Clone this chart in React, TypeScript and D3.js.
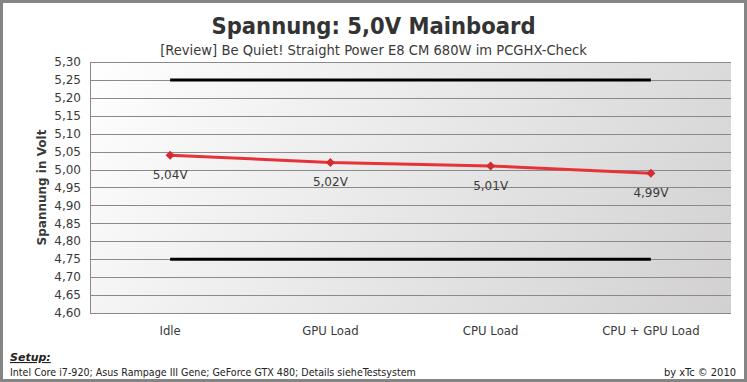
import { useEffect, useRef } from "react";
import * as d3 from "d3";

const categories = ["Idle", "GPU Load", "CPU Load", "CPU + GPU Load"];
const voltages = [5.04, 5.02, 5.01, 4.99];
const upperLimit = 5.25;
const lowerLimit = 4.75;
const yTicks = [4.6, 4.65, 4.7, 4.75, 4.8, 4.85, 4.9, 4.95, 5.0, 5.05, 5.1, 5.15, 5.2, 5.25, 5.3];

const fmt = (v: number) => v.toFixed(2).replace(".", ",");

export default function App() {
  const ref = useRef<SVGSVGElement>(null);

  useEffect(() => {
    const W = 747;
    const H = 382;
    const plot = { left: 90, right: 731, top: 62, bottom: 313 };
    const svg = d3.select(ref.current);
    svg.selectAll("*").remove();

    const defs = svg.append("defs");
    const grad = defs
      .append("linearGradient")
      .attr("id", "bg")
      .attr("gradientUnits", "userSpaceOnUse")
      .attr("x1", plot.left)
      .attr("y1", plot.top)
      .attr("x2", plot.right)
      .attr("y2", plot.bottom + 200);
    grad.append("stop").attr("offset", "0%").attr("stop-color", "#ffffff");
    grad.append("stop").attr("offset", "100%").attr("stop-color", "#cac8c8");

    // outer frame
    svg.append("rect").attr("width", W).attr("height", H).attr("fill", "#ffffff");
    svg
      .append("rect")
      .attr("x", 1.5)
      .attr("y", 1.5)
      .attr("width", W - 3)
      .attr("height", H - 3)
      .attr("fill", "none")
      .attr("stroke", "#858585")
      .attr("stroke-width", 3);

    const x = d3
      .scaleBand()
      .domain(categories)
      .range([plot.left, plot.right]);
    const y = d3.scaleLinear().domain([4.6, 5.3]).range([plot.bottom, plot.top]);
    const cx = (c: string) => (x(c) as number) + x.bandwidth() / 2;

    svg
      .append("rect")
      .attr("x", plot.left)
      .attr("y", plot.top)
      .attr("width", plot.right - plot.left)
      .attr("height", plot.bottom - plot.top)
      .attr("fill", "url(#bg)");

    // horizontal grid
    svg
      .append("g")
      .selectAll("line")
      .data(yTicks)
      .join("line")
      .attr("x1", plot.left)
      .attr("x2", plot.right)
      .attr("y1", (d) => Math.round(y(d)) + 0.5)
      .attr("y2", (d) => Math.round(y(d)) + 0.5)
      .attr("stroke", "#8a8a8a")
      .attr("stroke-width", 1);

    svg
      .append("line")
      .attr("x1", plot.left + 0.5)
      .attr("x2", plot.left + 0.5)
      .attr("y1", plot.top)
      .attr("y2", plot.bottom + 1)
      .attr("stroke", "#8a8a8a");

    // y axis labels
    svg
      .append("g")
      .selectAll("text")
      .data(yTicks)
      .join("text")
      .attr("x", plot.left - 9)
      .attr("y", (d) => y(d))
      .attr("dy", "0.35em")
      .attr("text-anchor", "end")
      .attr("font-family", "DejaVu Sans")
      .attr("font-size", 12)
      .attr("fill", "#3a3a3a")
      .text(fmt);

    svg
      .append("text")
      .attr("transform", `translate(46,${(plot.top + plot.bottom) / 2}) rotate(-90)`)
      .attr("text-anchor", "middle")
      .attr("font-family", "DejaVu Sans")
      .attr("font-weight", "bold")
      .attr("font-size", 12)
      .attr("fill", "#3a3a3a")
      .text("Spannung in Volt");

    // x axis labels
    svg
      .append("g")
      .selectAll("text")
      .data(categories)
      .join("text")
      .attr("x", cx)
      .attr("y", 335)
      .attr("text-anchor", "middle")
      .attr("font-family", "DejaVu Sans Condensed, DejaVu Sans")
      .attr("font-size", 13)
      .attr("fill", "#3a3a3a")
      .text((d) => d);

    // tolerance limits
    [upperLimit, lowerLimit].forEach((v) => {
      svg
        .append("line")
        .attr("x1", cx(categories[0]))
        .attr("x2", cx(categories[categories.length - 1]))
        .attr("y1", y(v))
        .attr("y2", y(v))
        .attr("stroke", "#000000")
        .attr("stroke-width", 3);
    });

    const pts = categories.map((c, i) => ({ c, v: voltages[i] }));

    svg
      .append("path")
      .datum(pts)
      .attr("fill", "none")
      .attr("stroke", "#e8323a")
      .attr("stroke-width", 3)
      .attr(
        "d",
        d3
          .line<{ c: string; v: number }>()
          .x((d) => cx(d.c))
          .y((d) => y(d.v))
      );

    svg
      .append("g")
      .selectAll("path")
      .data(pts)
      .join("path")
      .attr("transform", (d) => `translate(${cx(d.c)},${y(d.v)})`)
      .attr("d", "M0,-4.5L4.5,0L0,4.5L-4.5,0Z")
      .attr("fill", "#d42a30");

    svg
      .append("g")
      .selectAll("text")
      .data(pts)
      .join("text")
      .attr("x", (d) => cx(d.c))
      .attr("y", (d) => y(d.v) + 24)
      .attr("text-anchor", "middle")
      .attr("font-family", "DejaVu Sans")
      .attr("font-size", 12)
      .attr("fill", "#3a3a3a")
      .text((d) => fmt(d.v) + "V");

    // titles
    svg
      .append("text")
      .attr("x", W / 2)
      .attr("y", 34)
      .attr("text-anchor", "middle")
      .attr("font-family", "DejaVu Sans Condensed, DejaVu Sans")
      .attr("font-weight", "bold")
      .attr("font-size", 23.5)
      .attr("fill", "#333333")
      .text("Spannung: 5,0V Mainboard");

    svg
      .append("text")
      .attr("x", W / 2)
      .attr("y", 55)
      .attr("text-anchor", "middle")
      .attr("font-family", "Liberation Sans Narrow, DejaVu Sans Condensed")
      .attr("font-size", 14.6)
      .attr("fill", "#3a3a3a")
      .text("[Review] Be Quiet! Straight Power E8 CM 680W im PCGHX-Check");

    // footer
    svg
      .append("text")
      .attr("x", 10)
      .attr("y", 361)
      .attr("font-family", "DejaVu Sans")
      .attr("font-weight", "bold")
      .attr("font-style", "italic")
      .attr("text-decoration", "underline")
      .attr("font-size", 11)
      .attr("fill", "#222222")
      .text("Setup:");

    svg
      .append("text")
      .attr("x", 10)
      .attr("y", 376)
      .attr("font-family", "Liberation Sans Narrow, DejaVu Sans Condensed")
      .attr("font-size", 10.6)
      .attr("fill", "#222222")
      .text("Intel Core i7-920; Asus Rampage III Gene; GeForce GTX 480; Details sieheTestsystem");

    svg
      .append("text")
      .attr("x", 736)
      .attr("y", 376)
      .attr("text-anchor", "end")
      .attr("font-family", "Liberation Sans Narrow, DejaVu Sans Condensed")
      .attr("font-size", 11)
      .attr("fill", "#222222")
      .text("by xTc © 2010");
  });

  return (
    <svg
      ref={ref}
      width={747}
      height={382}
      style={{ position: "absolute", left: 0, top: 0, display: "block" }}
    />
  );
}
